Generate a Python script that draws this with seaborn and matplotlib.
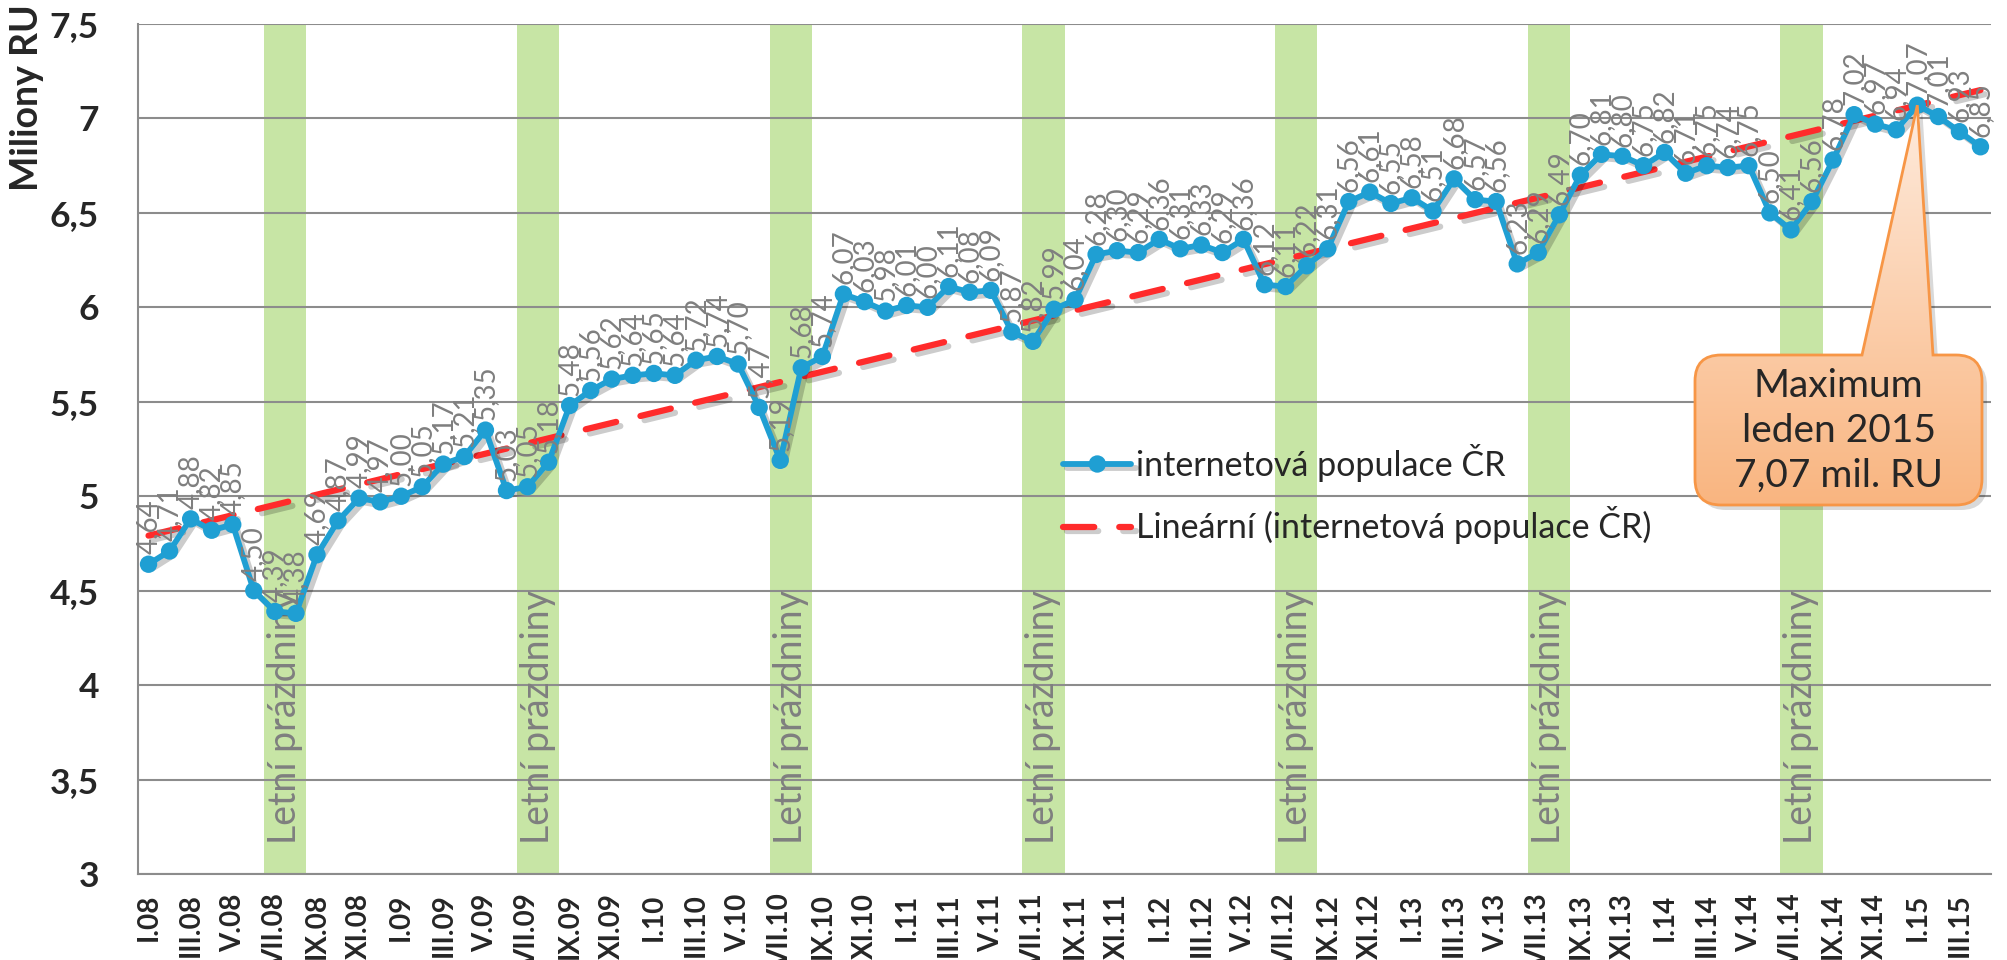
import matplotlib
matplotlib.use("Agg")
import matplotlib.pyplot as plt
import matplotlib.patheffects as pe
import numpy as np
import pandas as pd
import seaborn as sns
from matplotlib.colors import LinearSegmentedColormap
from matplotlib.patches import PathPatch
from matplotlib.path import Path
from matplotlib.ticker import FuncFormatter

# --- data -------------------------------------------------------------------
ROMAN = ["I", "II", "III", "IV", "V", "VI", "VII", "VIII", "IX", "X", "XI", "XII"]
YEARS = ["08", "09", "10", "11", "12", "13", "14", "15"]

values_2008 = [4.64, 4.71, 4.88, 4.82, 4.85, 4.50, 4.39, 4.38, 4.69, 4.87, 4.99, 4.97]
values_2009 = [5.00, 5.05, 5.17, 5.21, 5.35, 5.03, 5.05, 5.18, 5.48, 5.56, 5.62, 5.64]
values_2010 = [5.65, 5.64, 5.72, 5.74, 5.70, 5.47, 5.19, 5.68, 5.74, 6.07, 6.03, 5.98]
values_2011 = [6.01, 6.00, 6.11, 6.08, 6.09, 5.87, 5.82, 5.99, 6.04, 6.28, 6.30, 6.29]
values_2012 = [6.36, 6.31, 6.33, 6.29, 6.36, 6.12, 6.11, 6.22, 6.31, 6.56, 6.61, 6.55]
values_2013 = [6.58, 6.51, 6.68, 6.57, 6.56, 6.23, 6.29, 6.49, 6.70, 6.81, 6.80, 6.75]
values_2014 = [6.82, 6.71, 6.75, 6.74, 6.75, 6.50, 6.41, 6.56, 6.78, 7.02, 6.97, 6.94]
values_2015 = [7.07, 7.01, 6.93, 6.85]

values = (values_2008 + values_2009 + values_2010 + values_2011
          + values_2012 + values_2013 + values_2014 + values_2015)
months = [f"{m}.{y}" for y in YEARS for m in ROMAN][:len(values)]

holiday_starts = ["VII.08", "VII.09", "VII.10", "VII.11", "VII.12", "VII.13", "VII.14"]
HOLIDAY_TEXT = "Letní prázdniny"
SERIES_NAME = "internetová populace ČR"
TREND_NAME = "Lineární (internetová populace ČR)"

df = pd.DataFrame({"month": months, "value": values})
df["idx"] = np.arange(len(df))

BLUE = "#1F9FD3"
RED = "#FF2B2B"
GREEN = "#C7E5A5"
GRAY = "#8C8C8C"
LABEL_GRAY = "#7F7F7F"
ORANGE = "#F79646"

W, H = 2007, 960

sns.set_style("white")
plt.rcParams["font.family"] = ["Lato", "DejaVu Sans"]

fig = plt.figure(figsize=(W / 100, H / 100), dpi=100)
ax = fig.add_axes([138 / W, 86 / H, (1991 - 138) / W, (936 - 86) / H])

# summer holiday bands (July + August)
for start in holiday_starts:
    pos = months.index(start)
    ax.bar(pos + 0.5, 4.5, bottom=3, width=2, color=GREEN, linewidth=0, zorder=0.3)
    ax.text(pos + 0.5, 3.16, HOLIDAY_TEXT, rotation=90, ha="center", va="bottom",
            fontsize=27, color=LABEL_GRAY, zorder=1)

shadow = [pe.SimpleLineShadow(offset=(3, -3), shadow_color="k", alpha=0.2), pe.Normal()]

sns.regplot(data=df, x="idx", y="value", scatter=False, ci=None, ax=ax,
            line_kws=dict(color=RED, lw=4.5, dashes=(5, 4), dash_capstyle="round",
                          zorder=2, path_effects=shadow))
trend_line = ax.lines[-1]
trend_line.set_label(TREND_NAME)

sns.lineplot(data=df, x="idx", y="value", ax=ax, color=BLUE, lw=4.2, marker="o",
             markersize=12.5, markeredgewidth=0, zorder=3, path_effects=shadow)
series_line = ax.lines[-1]
series_line.set_label(SERIES_NAME)

for i, v in zip(df["idx"], df["value"]):
    ax.annotate(f"{v:.2f}".replace(".", ","), (i, v), xytext=(0, 7),
                textcoords="offset points", rotation=90, ha="center", va="bottom",
                fontsize=20, color=LABEL_GRAY, zorder=4)

ax.set_xlim(-0.5, len(values) - 0.5)
ax.set_ylim(3, 7.5)

# axes styling
ax.set_xticks(df["idx"][::2])
ax.set_xticklabels(months[::2], rotation=90, fontweight="bold", fontsize=20)
ax.set_xticks(np.arange(-0.5, len(values), 2), minor=True)
ax.tick_params(axis="x", which="major", length=0, pad=14)
ax.tick_params(axis="x", which="minor", length=10, width=1.5, color=GRAY)
ax.set_yticks(np.arange(3, 7.51, 0.5))
ax.yaxis.set_major_formatter(FuncFormatter(lambda v, _: f"{v:g}".replace(".", ",")))
ax.tick_params(axis="y", length=8, width=1.5, color=GRAY, pad=20, labelsize=25.5)
for lbl in ax.get_yticklabels():
    lbl.set_fontweight("bold")
ax.set_axisbelow(True)
ax.yaxis.grid(True, color=GRAY, lw=1.5)
ax.xaxis.grid(False)
for side in ["top", "right"]:
    ax.spines[side].set_visible(False)
for side in ["left", "bottom"]:
    ax.spines[side].set_color(GRAY)
    ax.spines[side].set_linewidth(1.5)
ax.set_xlabel("")
ax.set_ylabel("")
fig.text(27 / W, 1 - 98 / H, "Miliony RU", rotation=90, ha="center", va="center",
         fontsize=27, fontweight="bold")

ax.legend([series_line, trend_line], [SERIES_NAME, TREND_NAME],
          loc="upper left", bbox_to_anchor=(0.492, 0.522), frameon=False, fontsize=24.5,
          handlelength=2.0, handletextpad=0.15, labelspacing=0.72, borderaxespad=0)

# --- callout pointing at the maximum ---------------------------------------
imax = int(np.argmax(values))
tip_x, tip_y = ax.transData.transform((imax, values[imax]))

ov = fig.add_axes([0, 0, 1, 1])
ov.axis("off")
ov.patch.set_alpha(0)

L, R, B, T, r = 1695, 1982, 455, 605, 26
tail_l, tail_r = 1862, 1933
verts = [(L + r, T), (tail_l, T), (tip_x, tip_y), (tail_r, T), (R - r, T),
         (R, T), (R, T - r), (R, B + r), (R, B), (R - r, B), (L + r, B),
         (L, B), (L, B + r), (L, T - r), (L, T), (L + r, T), (L + r, T)]
codes = [Path.MOVETO, Path.LINETO, Path.LINETO, Path.LINETO, Path.LINETO,
         Path.CURVE3, Path.CURVE3, Path.LINETO, Path.CURVE3, Path.CURVE3, Path.LINETO,
         Path.CURVE3, Path.CURVE3, Path.LINETO, Path.CURVE3, Path.CURVE3, Path.CLOSEPOLY]
callout = Path(verts, codes)
shadow_path = Path([(x + 5, y - 5) for x, y in verts], codes)

ov.add_patch(PathPatch(shadow_path, facecolor="k", edgecolor="none", alpha=0.15, zorder=5))
outline = PathPatch(callout, facecolor="none", edgecolor=ORANGE, lw=2, zorder=7)
ov.add_patch(outline)
cmap = LinearSegmentedColormap.from_list("callout", ["#F9B580", "#FEEBDD"])
grad = np.linspace(0, 1, 256).reshape(-1, 1)
im = ov.imshow(grad, extent=(L, R, B, tip_y), origin="lower", aspect="auto",
               cmap=cmap, zorder=6)
im.set_clip_path(outline)
max_text = f"{values[imax]:.2f}".replace(".", ",")
ov.text((L + R) / 2, 529, f"Maximum\nleden 2015\n{max_text} mil. RU",
        ha="center", va="center", fontsize=28, linespacing=1.3, zorder=8)
ov.set_xlim(0, W)
ov.set_ylim(0, H)

fig.savefig("out.png", dpi=100)
